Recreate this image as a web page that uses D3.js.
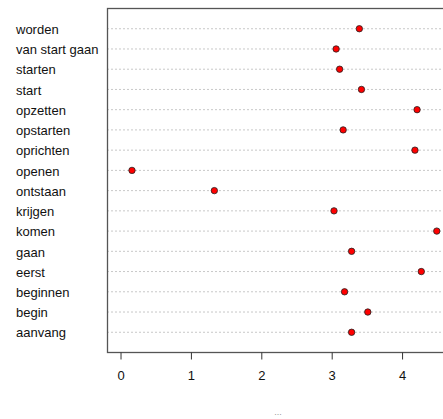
<!DOCTYPE html>
<html>
<head>
<meta charset="utf-8">
<script src="https://cdn.jsdelivr.net/npm/d3@7"></script>
<style>
  html, body { margin: 0; padding: 0; background: #fff; }
  svg { display: block; font-family: "Liberation Sans", Arial, sans-serif; }
</style>
</head>
<body>
<svg id="chart" width="443" height="419"></svg>
<script>
// Terms, listed top to bottom
const terms = ["worden", "van start gaan", "starten", "start", "opzetten", "opstarten",
  "oprichten", "openen", "ontstaan", "krijgen", "komen", "gaan", "eerst",
  "beginnen", "begin", "aanvang"];
// Score per term
const scores = [3.40, 3.07, 3.12, 3.43, 4.22, 3.17, 4.19, 0.17, 1.34, 3.04,
  4.50, 3.29, 4.28, 3.19, 3.52, 3.29];
const xTicks = [0, 1, 2, 3, 4];

const svg = d3.select("#chart");
const plot = { left: 107, top: 8, right: 460, bottom: 352 };

const x = d3.scaleLinear().domain([-0.185, 4.83]).range([plot.left, plot.right]);
// rows sit at 1..n from the bottom, padded by one slot on each side
const y = d3.scaleLinear().domain([0, terms.length + 1]).range([plot.bottom, plot.top]);
const rowY = i => y(terms.length - i);

// dotted guide lines
svg.append("g").selectAll("line").data(terms).join("line")
  .attr("x1", plot.left).attr("x2", plot.right)
  .attr("y1", (d, i) => rowY(i) + 0.5).attr("y2", (d, i) => rowY(i) + 0.5)
  .attr("stroke", "#c8c8c8").attr("stroke-width", 1).attr("stroke-dasharray", "2,2");

// plot frame
svg.append("rect")
  .attr("x", plot.left + 0.5).attr("y", plot.top + 0.5)
  .attr("width", plot.right - plot.left).attr("height", plot.bottom - plot.top)
  .attr("fill", "none").attr("stroke", "#555").attr("stroke-width", 1.3);

// term labels
svg.append("g").selectAll("text").data(terms).join("text")
  .attr("x", 16).attr("y", (d, i) => rowY(i) + 1)
  .attr("dy", "0.36em")
  .attr("font-size", 13).attr("fill", "#111")
  .text(d => d);

// x axis
const axis = d3.axisBottom(x).tickValues(xTicks).tickFormat(d3.format("d"))
  .tickSize(7).tickPadding(11);
const ax = svg.append("g").attr("transform", `translate(0.5,${plot.bottom + 0.5})`).call(axis);
ax.select(".domain").remove();
ax.selectAll(".tick line").attr("stroke", "#333");
ax.selectAll(".tick text").attr("font-size", 13).attr("fill", "#111")
  .attr("font-family", "Liberation Sans, Arial, sans-serif");

// points
svg.append("g").selectAll("circle").data(scores).join("circle")
  .attr("cx", d => x(d)).attr("cy", (d, i) => rowY(i) + 0.5)
  .attr("r", 3.2).attr("fill", "#ff0000").attr("stroke", "#222").attr("stroke-width", 0.8);

// truncated axis title
svg.append("text").attr("x", 278).attr("y", 415).attr("text-anchor", "middle")
  .attr("font-size", 9).attr("fill", "#999").text("...");
</script>
</body>
</html>
